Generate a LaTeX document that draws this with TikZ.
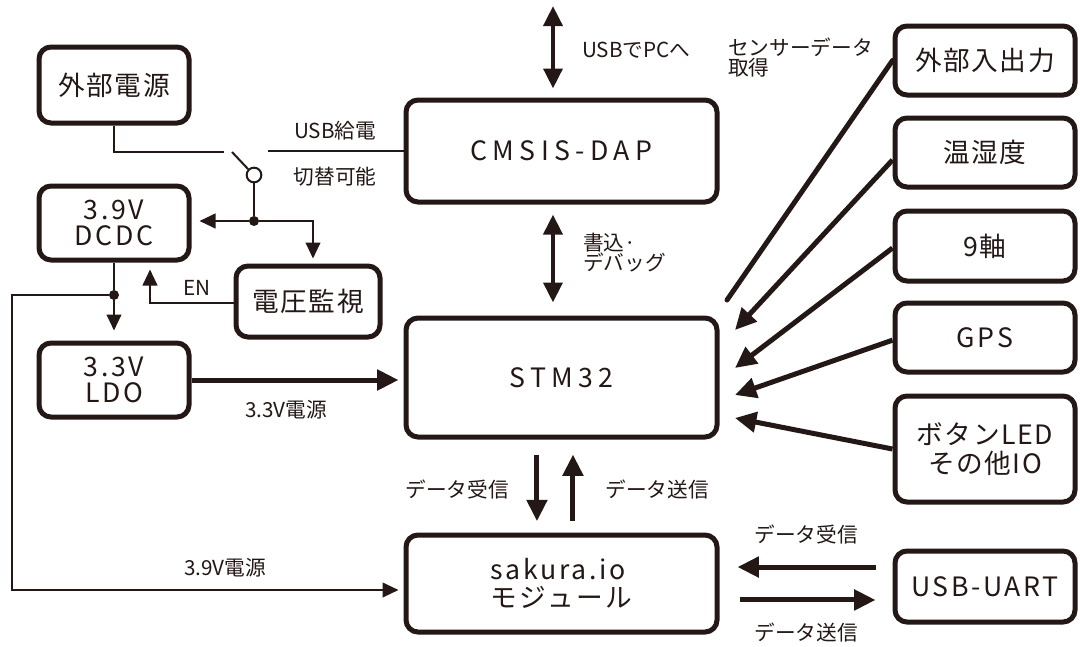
\documentclass[tikz,border=0pt]{standalone}
\usepackage{fontspec}
\setmainfont{Noto Sans CJK JP}
\usetikzlibrary{arrows.meta,calc}
\definecolor{ink}{HTML}{231815}
\newcommand{\boxfont}{\fontsize{20pt}{25pt}\selectfont\addfontfeature{LetterSpace=6}}
\newcommand{\latfont}{\fontsize{20pt}{25pt}\selectfont\addfontfeature{LetterSpace=10}}
\newcommand{\widefont}{\fontsize{20pt}{25pt}\selectfont\addfontfeature{LetterSpace=20}}
\newcommand{\lblfont}{\fontsize{15.5pt}{18pt}\selectfont}
\tikzset{
  blk/.style={draw=ink, line width=3.75pt, rounded corners=9pt, inner sep=0pt, text=ink, font=\boxfont, align=center},
  rbox/.style={blk, minimum width=135pt},
  lat/.style={font=\latfont},
  wide/.style={font=\widefont},
  lbl/.style={text=ink, font=\lblfont, inner sep=0pt, align=left},
  thin/.style={draw=ink, line width=1.5pt},
  thinarr/.style={thin, -{Triangle[length=12pt,width=11pt]}},
  thick/.style={draw=ink, line width=3.75pt},
  thickarr/.style={thick, -{Triangle[length=16pt,width=15pt]}},
  dblarr/.style={draw=ink, line width=3.4pt, {Triangle[length=15pt,width=14pt]}-{Triangle[length=15pt,width=14pt]}},
  jdot/.style={circle, fill=ink, inner sep=0pt, minimum size=7.5pt},
}
\begin{document}
\begin{tikzpicture}[x=0.75pt,y=-0.75pt]
\useasboundingbox[fill=white] (0,0) rectangle (1080,646);
% boxes
\node[blk, minimum width=112.5pt, minimum height=57pt] (ext) at (114,85) {外部電源};
\node[blk, wide, minimum width=233.25pt, minimum height=76.5pt] (cmsis) at (561.5,151) {CMSIS-DAP};
\node[blk, lat, minimum width=112.5pt, minimum height=55.5pt] (dcdc) at (114,223) {3.9V\\[-5pt]DCDC};
\node[blk, minimum width=108pt, minimum height=53.25pt] (mon) at (308,301.5) {電圧監視};
\node[blk, lat, minimum width=112.5pt, minimum height=55.5pt] (ldo) at (114,380) {3.3V\\[-5pt]LDO};
\node[blk, wide, minimum width=233.25pt, minimum height=89.25pt] (stm) at (561.5,377.5) {STM32};
\node[blk, lat, minimum width=233.25pt, minimum height=72.75pt, align=left] (sak) at (561.5,583.5) {sakura.io\\[-4pt]モジュール};
\node[rbox, minimum height=51.75pt] (ioext) at (985,60.5) {外部入出力};
\node[rbox, minimum height=51.75pt] (temp) at (985,152.5) {温湿度};
\node[rbox, minimum height=52.5pt] (nine) at (985,246) {9軸};
\node[rbox, lat, minimum height=51.75pt] (gps) at (985,337.5) {GPS};
\node[rbox, minimum height=79.5pt] (btn) at (985,449) {ボタンLED\\[-3pt]その他IO};
\node[rbox, lat, minimum height=53.25pt] (uart) at (985,586.5) {USB-UART};

% USB to PC
\coordinate (usbtop) at (553,6);
\draw[dblarr, shorten >=6.75pt] (usbtop) -- (usbtop |- cmsis.north);
\node[lbl, anchor=west] (lusb) at (582,50) {USBでPCへ};
\node[lbl, anchor=north west] (lsens) at (728,38) {センサーデータ\\[-3pt]取得};

% programming / debug
\draw[dblarr, shorten <=7.5pt, shorten >=9.75pt] ([xshift=-6.4pt]cmsis.south) -- ([xshift=-6.4pt]stm.north);
\node[lbl, anchor=north west] (lprog) at (583,233) {書込·\\[-3pt]デバッグ};

% STM32 <-> sakura
\draw[thickarr, shorten <=11.25pt, shorten >=8.5pt] ([xshift=-18.4pt]stm.south) -- ([xshift=-18.4pt]sak.north);
\draw[thickarr, shorten <=9pt, shorten >=11.25pt] ([xshift=8.6pt]sak.north) -- ([xshift=8.6pt]stm.south);
\node[lbl] (lrx1) at (457,490) {データ受信};
\node[lbl] (ltx1) at (657,490) {データ送信};

% USB-UART <-> sakura
\draw[thickarr, shorten <=12.75pt, shorten >=13.5pt] ([yshift=14.6pt]uart.west) -- ([yshift=14.6pt]uart.west -| sak.east);
\draw[thickarr, shorten <=15pt, shorten >=12.75pt] ([yshift=-10.1pt]uart.west -| sak.east) -- ([yshift=-10.1pt]uart.west);
\node[lbl] (lrx2) at (806,535) {データ受信};
\node[lbl] (ltx2) at (806,633) {データ送信};

% sensors
\coordinate (t0) at (727,300);
\coordinate (t1) at (735,330);
\coordinate (t2) at (735,368);
\coordinate (t3) at (735,395);
\coordinate (t4) at (735,418);
\draw[thick, line cap=round] (ioext.west) -- (t0);
\draw[thickarr] ([yshift=-5.6pt]temp.west) -- (t1);
\draw[thickarr] ([yshift=-1.5pt]nine.west) -- (t2);
\draw[thickarr] ([yshift=-2pt]gps.west) -- (t3);
\draw[thickarr] (btn.west) -- (t4);

% LDO -> STM32
\draw[thickarr, shorten >=3.75pt] (ldo.east) -- (ldo.east -| stm.west);
\node[lbl] (l33) at (286,410) {3.3V電源};

% switch
\coordinate (swa) at (224,152);
\coordinate (swb) at (232,152);
\coordinate (swd) at (268,151);
\node[circle, draw=ink, line width=1.5pt, fill=white, minimum size=11pt, inner sep=0pt] (swc) at (254,175) {};
\draw[thin] (ext.south) |- (swa);
\draw[thin] (swb) -- (swc.135);
\draw[thin] (cmsis.west) -- (swd);
\node[lbl] (lusbp) at (335,131) {USB給電};
\node[lbl] (lsw) at (335,177) {切替可能};
\node[jdot] (j1) at (254,221) {};
\draw[thin] (swc.south) -- (j1);
\draw[thinarr, shorten >=6pt] (j1) -- (j1 -| dcdc.east);
\draw[thinarr, shorten >=3.75pt] (j1) -| ([xshift=3.75pt]mon.north);

% DCDC -> LDO and 3.9V
\node[jdot] (j2) at (114,295) {};
\draw[thin] (dcdc.south) -- (j2);
\draw[thinarr, shorten >=7.5pt] (j2) -- (ldo.north);
\coordinate (c1) at (12,295);
\coordinate (c2) at (12,590);
\draw[thinarr, shorten >=3.75pt] (j2) -- (c1) -- (c2) -- (c2 -| sak.west);
\node[lbl] (l39) at (225,568) {3.9V電源};

% EN
\draw[thinarr, shorten >=5.25pt] ([yshift=-1pt]mon.west) -| ([xshift=27pt]dcdc.south);
\node[lbl] (len) at (197,288) {EN};
\end{tikzpicture}
\end{document}
